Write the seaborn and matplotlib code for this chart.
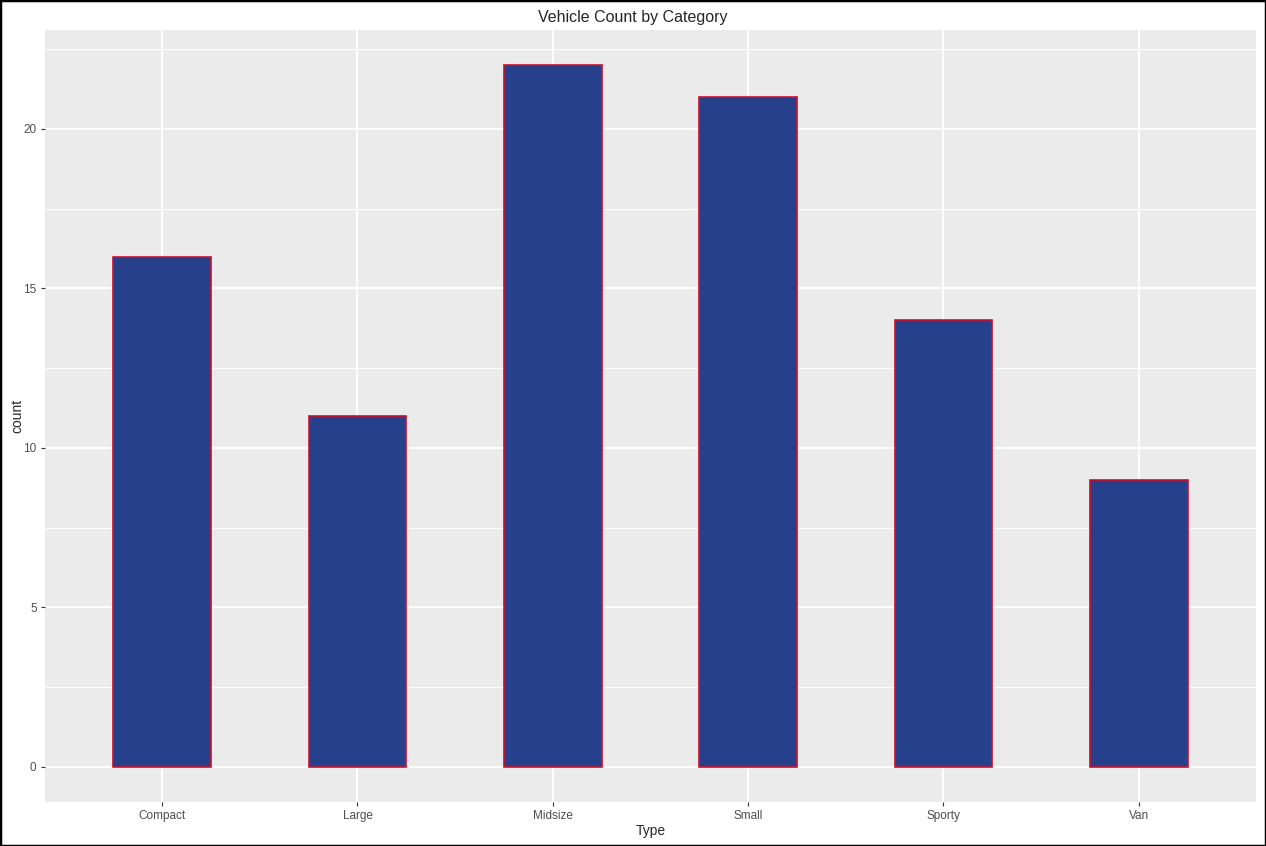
import seaborn as sns
import pandas as pd
import numpy as np
from matplotlib import pyplot as plt

types = ["Compact", "Large", "Midsize", "Small", "Sporty", "Van"]
counts = [16, 11, 22, 21, 14, 9]


def main():
    df = pd.DataFrame({"Type": types, "count": counts})
    sns.set_theme()
    sns.set_style("darkgrid", {"axes.facecolor": "#EBEBEB", "grid.color": "white",
                               "xtick.bottom": True, "ytick.left": True})
    plt.rcParams["font.family"] = ["Liberation Sans", "DejaVu Sans"]

    fig = plt.figure(figsize=(12.66, 8.46), dpi=100)
    ax = fig.add_axes([0.0355, 0.052, 0.9565, 0.9125])
    sns.barplot(data=df, x="Type", y="count", ax=ax, color="#27408B",
                width=0.5, edgecolor="#C8102E", linewidth=1.2, saturation=1)

    ax.set_xlim(-0.6, len(types) - 0.4)
    ax.set_ylim(-1.1, 23.1)
    ax.set_yticks([0, 5, 10, 15, 20])
    ax.set_yticks(np.arange(2.5, 23, 5), minor=True)
    ax.grid(which="major", color="white", linewidth=1.3)
    ax.grid(which="minor", axis="y", color="white", linewidth=0.7)
    ax.set_axisbelow(True)
    for s in ax.spines.values():
        s.set_visible(False)
    ax.tick_params(axis="both", which="major", labelsize=8.5, labelcolor="#4D4D4D",
                   length=3, width=0.8, color="#333333", pad=3,
                   bottom=True, left=True)
    ax.tick_params(axis="both", which="minor", length=0)
    ax.set_xlabel("Type", fontsize=10)
    ax.set_ylabel("count", fontsize=10)
    ax.yaxis.set_label_coords(-0.0173, 0.5)
    ax.xaxis.set_label_coords(0.5, -0.029)
    fig.suptitle("Vehicle Count by Category", fontsize=11.5, y=0.988)

    fig.patches.append(plt.Rectangle((0, 0), 1, 1, transform=fig.transFigure,
                                     fill=False, edgecolor="black", linewidth=2.5))
    fig.savefig("out.png", dpi=100)


main()
